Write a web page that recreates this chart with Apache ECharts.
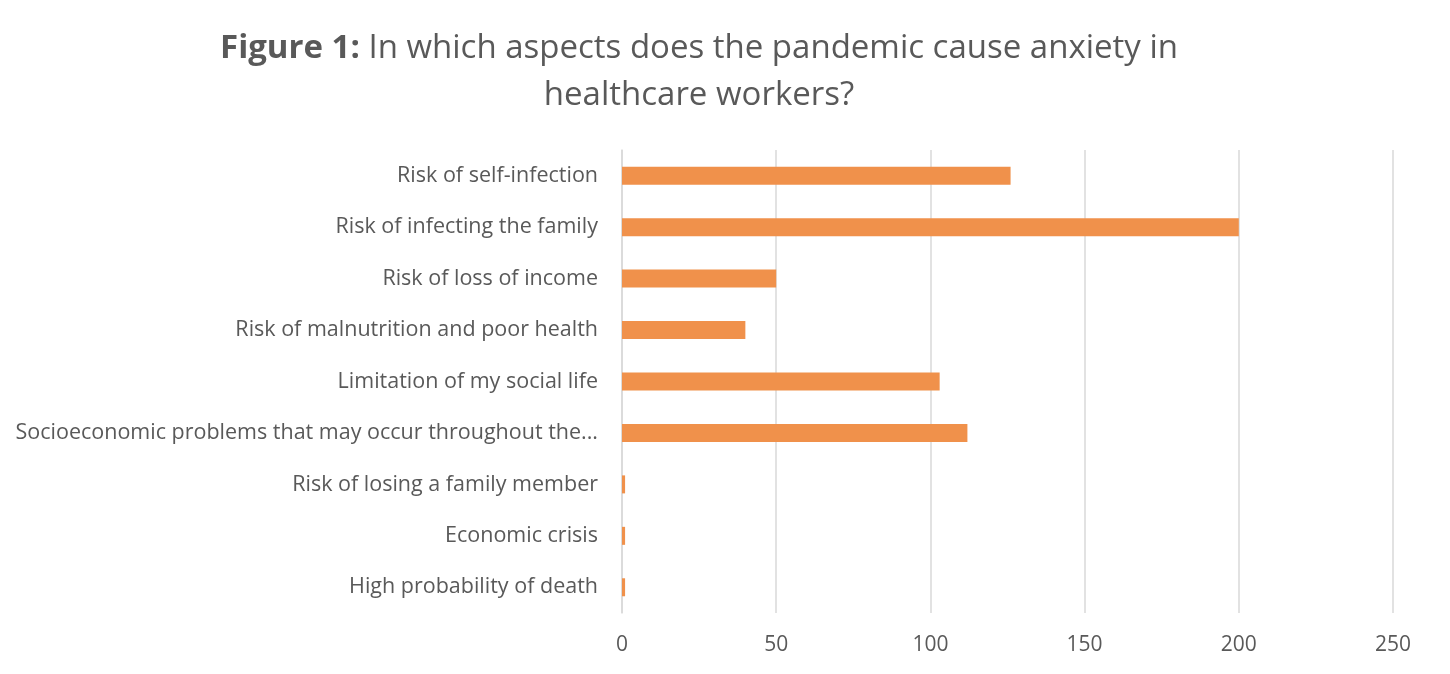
<!DOCTYPE html>
<html>
<head>
<meta charset="utf-8">
<script src="https://cdn.jsdelivr.net/npm/echarts@6/dist/echarts.min.js"></script>
<style>
    html, body { margin: 0; padding: 0; background: #fff; }
    #main { width: 1450px; height: 674px; }
</style>
</head>
<body>
<div id="main"></div>
<script>
// categories top to bottom
var categories = [
    'Risk of self-infection',
    'Risk of infecting the family',
    'Risk of loss of income',
    'Risk of malnutrition and poor health',
    'Limitation of my social life',
    'Socioeconomic problems that may occur throughout the...',
    'Risk of losing a family member',
    'Economic crisis',
    'High probability of death'
];
var values = [126, 200, 50, 40, 103, 112, 1, 1, 1];
var xTicks = [0, 50, 100, 150, 200, 250];

var font = '"Open Sans", sans-serif';
var chartDom = document.getElementById('main');
var myChart = echarts.init(chartDom, null, { renderer: 'canvas' });
var option = {
    backgroundColor: '#fff',
    animation: false,
    title: {
        text: '{b|Figure 1:} In which aspects does the pandemic cause anxiety in\nhealthcare workers?',
        left: 694,
        top: 20,
        textAlign: 'center',
        textStyle: {
            fontFamily: font,
            fontSize: 33,
            fontWeight: 'normal',
            color: '#595959',
            lineHeight: 47,
            rich: {
                b: { fontFamily: font, fontSize: 33, fontWeight: 'bold', color: '#595959' }
            }
        }
    },
    grid: {
        left: 622,
        right: 57,
        top: 150,
        bottom: 61
    },
    xAxis: {
        type: 'value',
        min: xTicks[0],
        max: xTicks[xTicks.length - 1],
        interval: 50,
        axisLine: { show: false },
        axisTick: { show: false },
        axisLabel: {
            margin: 22,
            fontFamily: font,
            fontSize: 21,
            color: '#595959'
        },
        splitLine: { lineStyle: { color: '#d9d9d9', width: 1.5 } }
    },
    yAxis: {
        type: 'category',
        inverse: true,
        data: categories,
        axisLine: { show: true, lineStyle: { color: '#d9d9d9', width: 1.5 } },
        axisTick: { show: false },
        axisLabel: {
            margin: 24,
            fontFamily: font,
            fontSize: 21.5,
            color: '#595959'
        }
    },
    series: [
        {
            type: 'bar',
            data: values,
            barWidth: 18,
            itemStyle: { color: '#f0914b' }
        }
    ]
};
myChart.setOption(option);
</script>
</body>
</html>
